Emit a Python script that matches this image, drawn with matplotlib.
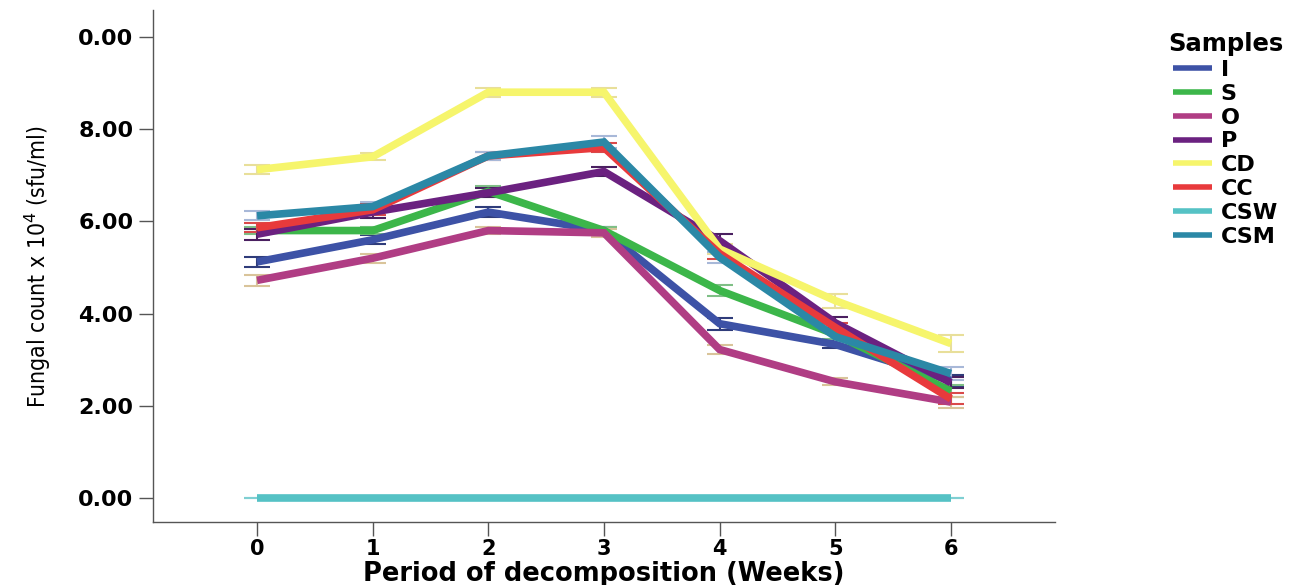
import matplotlib
matplotlib.use("Agg")
import matplotlib.pyplot as plt
import numpy as np

weeks = [0, 1, 2, 3, 4, 5, 6]
samples = ["I", "S", "O", "P", "CD", "CC", "CSW", "CSM"]
I_vals   = [5.12, 5.60, 6.20, 5.80, 3.78, 3.33, 2.55]
S_vals   = [5.80, 5.80, 6.65, 5.80, 4.50, 3.55, 2.32]
O_vals   = [4.72, 5.20, 5.80, 5.75, 3.22, 2.52, 2.08]
P_vals   = [5.72, 6.20, 6.62, 7.08, 5.58, 3.80, 2.50]
CD_vals  = [7.12, 7.40, 8.80, 8.80, 5.40, 4.28, 3.35]
CC_vals  = [5.86, 6.25, 7.42, 7.60, 5.30, 3.70, 2.15]
CSW_vals = [0, 0, 0, 0, 0, 0, 0]
CSM_vals = [6.12, 6.32, 7.42, 7.72, 5.22, 3.50, 2.70]

I_err   = [0.10, 0.10, 0.10, 0.08, 0.13, 0.08, 0.12]
S_err   = [0.08, 0.08, 0.12, 0.08, 0.12, 0.10, 0.12]
O_err   = [0.12, 0.10, 0.08, 0.08, 0.10, 0.08, 0.12]
P_err   = [0.12, 0.12, 0.10, 0.10, 0.15, 0.12, 0.12]
CD_err  = [0.10, 0.08, 0.10, 0.10, 0.10, 0.15, 0.18]
CC_err  = [0.10, 0.12, 0.08, 0.10, 0.12, 0.10, 0.12]
CSW_err = [0, 0, 0, 0, 0, 0, 0]
CSM_err = [0.10, 0.10, 0.08, 0.12, 0.12, 0.12, 0.15]

ytick_vals = [0, 2, 4, 6, 8, 10]
ytick_labels = ["0.00", "2.00", "4.00", "6.00", "8.00", "0.00"]

series = [
    ("I", I_vals, I_err, "#3d52a6", "#2f3c7a"),
    ("S", S_vals, S_err, "#3cb64a", "#7fbf86"),
    ("O", O_vals, O_err, "#b03d84", "#d9c49a"),
    ("P", P_vals, P_err, "#6b2180", "#4a2060"),
    ("CD", CD_vals, CD_err, "#f6f56c", "#e8df9a"),
    ("CC", CC_vals, CC_err, "#e83a3c", "#d94a4a"),
    ("CSW", CSW_vals, CSW_err, "#55c2c5", "#7fcfd2"),
    ("CSM", CSM_vals, CSM_err, "#2b88a6", "#a8b8d8"),
]

fig = plt.figure(figsize=(13.11, 5.85), dpi=100)
ax = fig.add_axes([0.1167, 0.1077, 0.688, 0.875])

handles = []
for name, vals, err, col, ecol in series:
    ax.errorbar(weeks, vals, yerr=err, fmt="none", ecolor=ecol, elinewidth=1.5,
                capsize=9.5, capthick=1.5, zorder=2)
    h, = ax.plot(weeks, vals, color=col, lw=5.5, solid_joinstyle="miter",
                 solid_capstyle="butt", zorder=3, label=name)
    handles.append(h)

ax.set_xlim(-0.9, 6.9)
ax.set_ylim(-0.52, 10.58)
ax.set_xticks(weeks)
ax.set_xticklabels([str(w) for w in weeks], fontsize=15, fontweight="heavy")
ax.set_yticks(ytick_vals)
ax.set_yticklabels(ytick_labels, fontsize=16, fontweight="heavy")
for s in ["top", "right"]:
    ax.spines[s].set_visible(False)
for s in ["left", "bottom"]:
    ax.spines[s].set_color("#555555")
    ax.spines[s].set_linewidth(1.0)
ax.tick_params(axis="both", length=10, width=1, color="#555555", pad=4)
ax.tick_params(axis="x", pad=2)

ax.set_xlabel("Period of decomposition (Weeks)", fontsize=18.5, fontweight="heavy",
              va="center")
ax.xaxis.set_label_coords(0.5, -0.102)
ax.set_ylabel("Fungal count x 10$^4$ (sfu/ml)", fontsize=16.5, fontstretch="condensed",
              family=["DejaVu Sans"], labelpad=18)

leg = fig.legend(handles=handles, labels=samples, loc="upper left",
                 bbox_to_anchor=(0.884, 0.96), frameon=False, title="Samples",
                 prop={"weight": "heavy", "size": 16},
                 title_fontproperties={"weight": "heavy", "size": 17.5},
                 handlelength=1.75, handletextpad=0.4, labelspacing=0.17, borderaxespad=0)
for lh in leg.get_lines():
    lh.set_linewidth(4)

fig.savefig("out.png", dpi=100)
